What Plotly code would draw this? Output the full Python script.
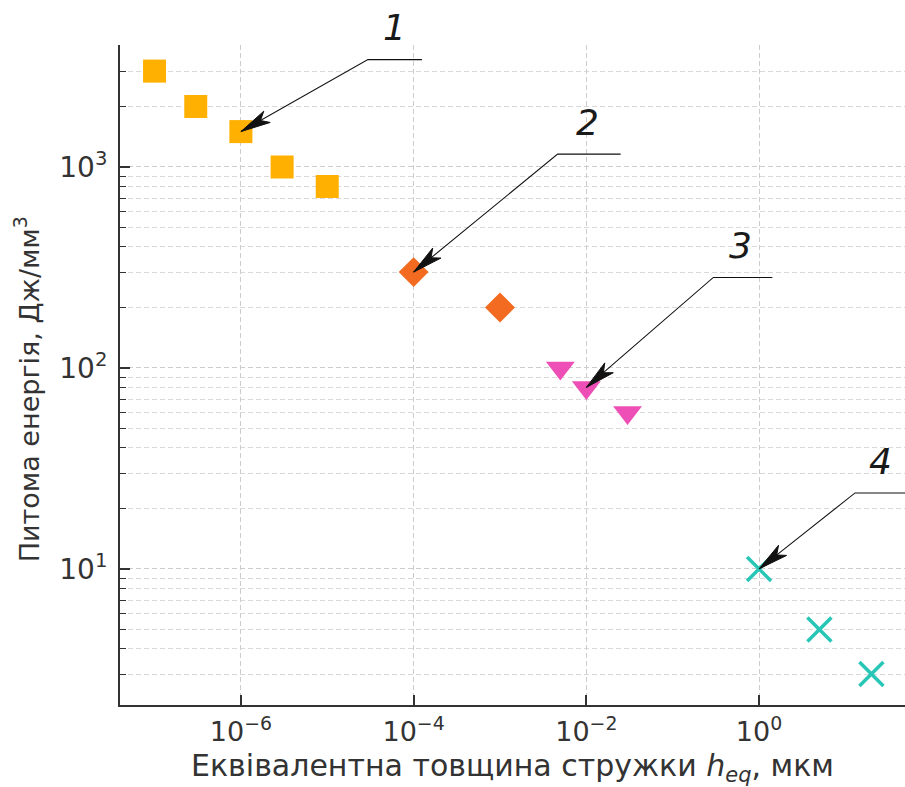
import numpy as np
import plotly.graph_objects as go

# ---- data ----
s1_x = [1e-7, 3e-7, 1e-6, 3e-6, 1e-5]
s1_y = [3000, 2000, 1500, 1000, 800]
s2_x = [1e-4, 1e-3]
s2_y = [300, 200]
s3_x = [5e-3, 1e-2, 3e-2]
s3_y = [100, 80, 60]
s4_x = [1, 5, 20]
s4_y = [10, 5, 3]

x_tickvals = [1e-6, 1e-4, 1e-2, 1]
x_ticktext = ["10<sup>−6</sup>", "10<sup>−4</sup>", "10<sup>−2</sup>", "10<sup>0</sup>"]
y_tickvals = [10, 100, 1000]
y_ticktext = ["10<sup>1</sup>", "10<sup>2</sup>", "10<sup>3</sup>"]
y_minor = [2, 3, 4, 5, 6, 7, 8, 9, 20, 30, 40, 50, 60, 70, 80, 90,
           200, 300, 400, 500, 600, 700, 800, 900, 2000, 3000, 4000]

x_title = "Еквівалентна товщина стружки <i>h</i><sub><i>eq</i></sub>, мкм"
y_title = "Питома енергія, Дж/мм<sup>3</sup>"

callout_labels = ["1", "2", "3", "4"]
callout_series = [(s1_x, s1_y, 2), (s2_x, s2_y, 0), (s3_x, s3_y, 1), (s4_x, s4_y, 0)]
# pixel geometry of callouts (screen px, y down): (bend dx, bend dy, horizontal length, label dx, label dy)
callout_geom = [(127, -72, 54, 154, -104),
                (144, -118, 63, 174, -150),
                (127, -110, 59, 154, -142),
                (96, -76, 60, 121, -107)]

FONT = "DejaVu Sans"
TXT = "#333333"

fig = go.Figure()
fig.add_trace(go.Scatter(x=s1_x, y=s1_y, mode="markers",
                         marker=dict(symbol="square", size=23, color="#FFB000"), showlegend=False))
fig.add_trace(go.Scatter(x=s2_x, y=s2_y, mode="markers",
                         marker=dict(symbol="diamond", size=23, color="#F26B21"), showlegend=False))
fig.add_trace(go.Scatter(x=s3_x, y=s3_y, mode="markers",
                         marker=dict(symbol="triangle-down", size=25, color="#EE4FB6"), showlegend=False))
fig.add_trace(go.Scatter(x=s4_x, y=s4_y, mode="markers",
                         marker=dict(symbol="x-thin", size=24, color="#27C6B6",
                                     line=dict(width=3.5, color="#27C6B6")), showlegend=False))

shapes = []
for lab, (sx, sy, i), (bx, by, hl, lx, ly) in zip(callout_labels, callout_series, callout_geom):
    px, py = sx[i], sy[i]
    uy = -by  # pixel shapes: y up
    # leader line: head -> bend -> horizontal
    shapes.append(dict(type="path", xref="x", yref="y", xsizemode="pixel", ysizemode="pixel",
                       xanchor=px, yanchor=py,
                       path=f"M0,0 L{bx},{uy} L{bx + hl},{uy}",
                       line=dict(color="#111111", width=1.1)))
    # dart arrowhead
    n = np.hypot(bx, uy)
    ux, uyy = bx / n, uy / n
    nx, ny = -uyy, ux
    L, W = 30, 13
    p1 = (ux * L + nx * W / 2, uyy * L + ny * W / 2)
    p2 = (ux * L * 0.75, uyy * L * 0.75)
    p3 = (ux * L - nx * W / 2, uyy * L - ny * W / 2)
    shapes.append(dict(type="path", xref="x", yref="y", xsizemode="pixel", ysizemode="pixel",
                       xanchor=px, yanchor=py, layer="above",
                       path=(f"M0,0 L{p1[0]:.2f},{p1[1]:.2f} L{p2[0]:.2f},{p2[1]:.2f} "
                             f"L{p3[0]:.2f},{p3[1]:.2f} Z"),
                       fillcolor="#111111", line=dict(color="#111111", width=1)))
    # number label
    fig.add_annotation(x=np.log10(px), y=np.log10(py), xref="x", yref="y",
                       text="<i>" + lab + "</i>",
                       showarrow=False, xshift=lx, yshift=-ly,
                       font=dict(family="DejaVu Sans", size=36, color="#1a1a1a", weight=200))

# y-axis title as a rotated annotation (sits slightly below plot centre in the reference)
fig.add_annotation(x=-0.118, y=0.479, xref="paper", yref="paper", text=y_title,
                   textangle=-90, showarrow=False, xanchor="center", yanchor="middle",
                   font=dict(family=FONT, size=27, color=TXT))

grid_dash = "5px,3px"
fig.update_layout(
    width=905, height=787,
    margin=dict(l=120, r=0, t=45, b=82),
    paper_bgcolor="white", plot_bgcolor="white",
    font=dict(family=FONT, color=TXT),
    shapes=shapes,
    xaxis=dict(type="log", range=[-7.40, 1.69],
               tickmode="array", tickvals=x_tickvals, ticktext=x_ticktext,
               ticks="inside", ticklen=10, tickwidth=1.5, tickcolor="#333333",
               showline=True, linecolor="#333333", linewidth=2,
               showgrid=True, gridcolor="#cccccc", gridwidth=1, griddash=grid_dash,
               zeroline=False, tickfont=dict(size=27, color=TXT),
               ticklabelstandoff=2,
               title=dict(text=x_title, font=dict(size=30, color=TXT), standoff=11)),
    yaxis=dict(type="log", range=[0.323, 3.607],
               tickmode="array", tickvals=y_tickvals, ticktext=y_ticktext,
               ticks="inside", ticklen=10, tickwidth=1.5, tickcolor="#333333",
               showline=True, linecolor="#333333", linewidth=2,
               showgrid=True, gridcolor="#cccccc", gridwidth=1, griddash=grid_dash,
               zeroline=False, tickfont=dict(size=28, color=TXT),
               ticklabelstandoff=5,
               minor=dict(tickmode="array", tickvals=y_minor, ticks="inside", ticklen=6,
                          tickwidth=1, tickcolor="#333333", showgrid=True,
                          gridcolor="#d9d9d9", gridwidth=1, griddash=grid_dash)),
)

fig.write_html("out.html")
